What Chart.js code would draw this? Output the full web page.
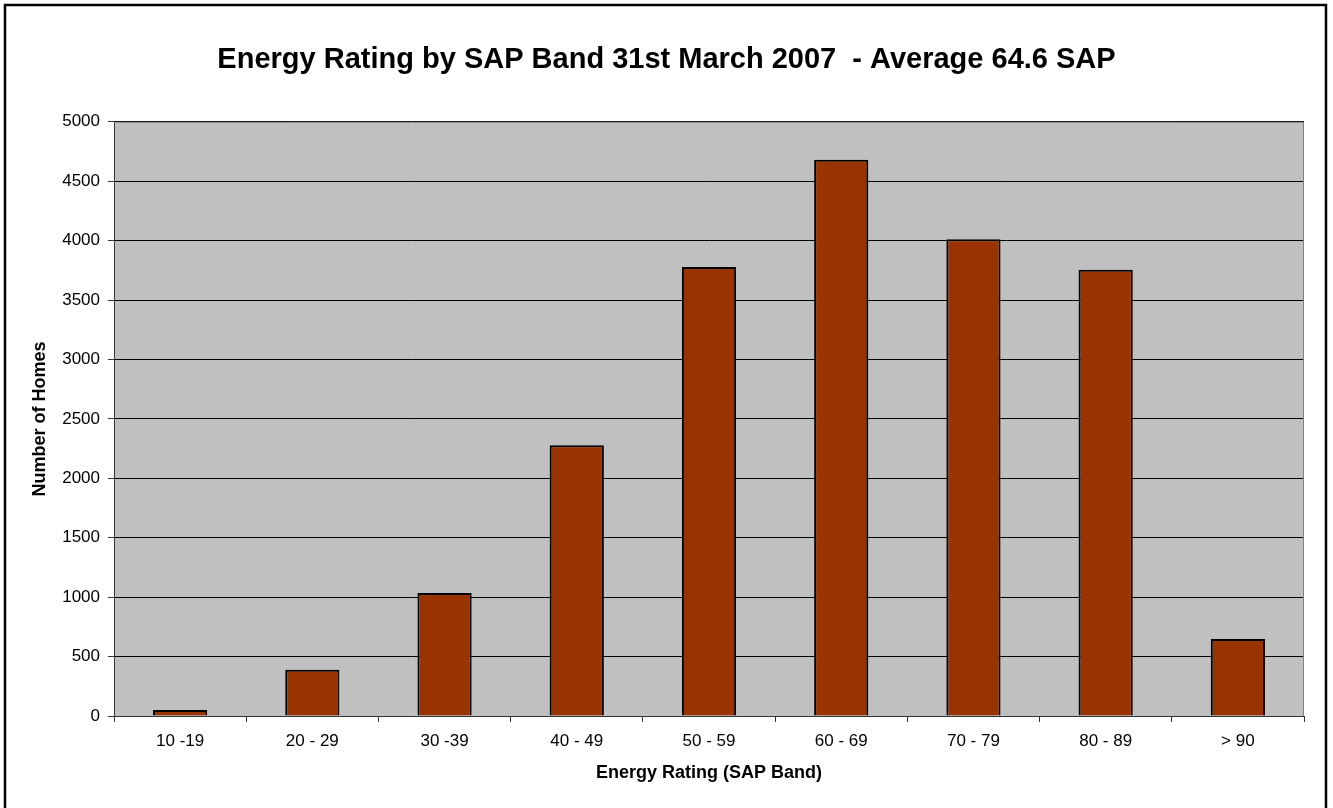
<!DOCTYPE html>
<html>
<head>
<meta charset="utf-8">
<script src="https://cdn.jsdelivr.net/npm/chart.js@4.4.1/dist/chart.umd.min.js"></script>
<style>
  html, body { margin: 0; padding: 0; background: #ffffff; }
  #wrap { width: 1333px; height: 808px; position: relative; }
</style>
</head>
<body>
<div id="wrap"><canvas id="chart" width="1333" height="808"></canvas></div>
<script>
// SAP energy bands and number of homes in each band
const bands = ['10 -19', '20 - 29', '30 -39', '40 - 49', '50 - 59', '60 - 69', '70 - 79', '80 - 89', '> 90'];
const homes = [50, 390, 1035, 2278, 3779, 4680, 4012, 3754, 648];

const titleText = 'Energy Rating by SAP Band 31st March 2007  - Average 64.6 SAP';
const yTitle = 'Number of Homes';
const xTitle = 'Energy Rating (SAP Band)';

const FONT = 'Arial, "Liberation Sans", Helvetica, sans-serif';

// Grey plot background, plot frame and the outer chart border
const framePlugin = {
  id: 'frame',
  beforeDraw(chart) {
    const { ctx, chartArea: a } = chart;
    ctx.save();
    ctx.fillStyle = '#ffffff';
    ctx.fillRect(0, 0, chart.width, chart.height);
    ctx.fillStyle = '#C0C0C0';
    ctx.fillRect(a.left, a.top, a.right - a.left, a.bottom - a.top);
    ctx.restore();
  },
  afterDatasetsDraw(chart) {
    const { ctx, chartArea: a } = chart;
    ctx.save();
    // top and right edges of the plot area
    ctx.strokeStyle = '#808080';
    ctx.lineWidth = 1;
    ctx.beginPath();
    ctx.moveTo(a.left, a.top + 0.5);
    ctx.lineTo(a.right - 0.5, a.top + 0.5);
    ctx.lineTo(a.right - 0.5, a.bottom);
    ctx.stroke();
    // outer border of the chart
    ctx.strokeStyle = '#000000';
    ctx.lineWidth = 2.5;
    ctx.beginPath();
    ctx.moveTo(5, 812);
    ctx.lineTo(5, 5);
    ctx.lineTo(1326, 5);
    ctx.lineTo(1326, 812);
    ctx.stroke();
    ctx.restore();
  }
};

new Chart(document.getElementById('chart'), {
  type: 'bar',
  data: {
    labels: bands,
    datasets: [{
      data: homes,
      backgroundColor: '#993300',
      borderColor: '#000000',
      borderWidth: 2,
      barPercentage: 0.41,
      categoryPercentage: 1.0
    }]
  },
  options: {
    responsive: false,
    animation: false,
    devicePixelRatio: 1,
    layout: { padding: { left: 29, right: 29, top: 0, bottom: 0 } },
    plugins: {
      legend: { display: false },
      tooltip: { enabled: false },
      title: {
        display: true,
        text: titleText,
        color: '#000000',
        font: { family: FONT, size: 29, weight: 'bold', lineHeight: 1.2 },
        padding: { top: 43, bottom: 44 }
      }
    },
    scales: {
      x: {
        offset: true,
        grid: {
          offset: true,
          drawOnChartArea: false,
          drawTicks: true,
          tickLength: 6,
          color: '#333333'
        },
        border: { display: true, color: '#333333', width: 1 },
        ticks: {
          color: '#000000',
          font: { family: FONT, size: 17 },
          padding: 9,
          maxRotation: 0,
          autoSkip: false
        },
        title: {
          display: true,
          text: xTitle,
          color: '#000000',
          font: { family: FONT, size: 18, weight: 'bold', lineHeight: 1.2 },
          padding: { top: 0, bottom: 24 }
        },
        afterFit(scale) { scale.height = 92; }
      },
      y: {
        min: 0,
        max: 5000,
        grid: {
          color: '#000000',
          tickColor: '#333333',
          tickLength: 6,
          lineWidth: 1
        },
        border: { display: true, color: '#333333', width: 1 },
        ticks: {
          stepSize: 500,
          color: '#000000',
          font: { family: FONT, size: 17 },
          padding: 8,
          callback: (v) => String(v)
        },
        title: {
          display: true,
          text: yTitle,
          color: '#000000',
          font: { family: FONT, size: 18, weight: 'bold', lineHeight: 1.2 },
          padding: { top: 0, bottom: 0 }
        },
        afterFit(scale) { scale.width = 85; }
      }
    }
  },
  plugins: [framePlugin]
});
</script>
</body>
</html>
